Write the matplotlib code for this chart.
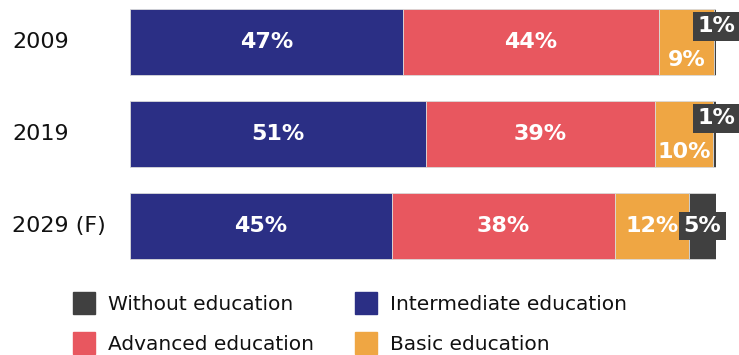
import matplotlib
matplotlib.use("Agg")
import matplotlib.pyplot as plt
from matplotlib.patches import Rectangle

years = ["2009", "2019", "2029 (F)"]
series = ["Intermediate education", "Advanced education", "Basic education", "Without education"]
# bar lengths (share of 100%)
intermediate = [46.6, 50.5, 44.7]
advanced = [43.7, 39.1, 38.1]
basic = [9.4, 9.9, 12.6]
without = [0.4, 0.5, 4.6]
# printed labels
lab_intermediate = ["47%", "51%", "45%"]
lab_advanced = ["44%", "39%", "38%"]
lab_basic = ["9%", "10%", "12%"]
lab_without = ["1%", "1%", "5%"]

colors = {
    "Intermediate education": "#2B2F85",
    "Advanced education": "#E8575F",
    "Basic education": "#EFA643",
    "Without education": "#404040",
}
values = [intermediate, advanced, basic, without]
labels = [lab_intermediate, lab_advanced, lab_basic, lab_without]

plt.rcParams['font.family'] = ['DejaVu Sans']
fig = plt.figure(figsize=(7.39, 3.55), dpi=100)
ax = fig.add_axes([130/739, 85/355, 586/739, 270/355])

ypos = list(range(len(years)))
h = 0.71
left = [0.0] * len(years)
box = dict(boxstyle="square,pad=0.2", fc="#404040", ec="none")
for s, vals, labs in zip(series, values, labels):
    ax.barh(ypos, vals, left=left, height=h, color=colors[s],
            edgecolor="#d9d9d9", linewidth=0.6)
    for i, (v, lb) in enumerate(zip(vals, labs)):
        cx = left[i] + v / 2
        cy = ypos[i]
        small_without = without[i] < 3
        kw = dict(color="white", fontsize=16, fontweight="bold",
                  ha="center", va="center")
        if s == "Without education":
            if small_without:
                ax.text(100, cy - 0.17, lb, bbox=box, **kw)
            else:
                ax.text(cx, cy, lb, bbox=box, **kw)
        elif s == "Basic education" and small_without:
            ax.text(cx, cy + 0.2, lb, **kw)
        else:
            ax.text(cx, cy, lb, **kw)
    left = [l + v for l, v in zip(left, vals)]

ax.set_xlim(0, 100)
ax.set_ylim(2.478, -0.457)
ax.axis("off")
for i, y in enumerate(years):
    ax.text(-118/586*100, ypos[i], y, ha="left", va="center", fontsize=16,
            color="#111111")

# legend
leg_items = [
    ("Without education", 73, 292),
    ("Intermediate education", 355, 292),
    ("Advanced education", 73, 332),
    ("Basic education", 355, 332),
]
for name, x, y in leg_items:
    fig.patches.append(Rectangle((x/739, 1 - (y + 22)/355), 22/739, 22/355,
                                 transform=fig.transFigure, color=colors[name]))
    fig.text((x + 35)/739, 1 - (y + 12)/355, name, ha="left", va="center",
             fontsize=14.5, color="#111111")

fig.savefig("out.png", dpi=100)
